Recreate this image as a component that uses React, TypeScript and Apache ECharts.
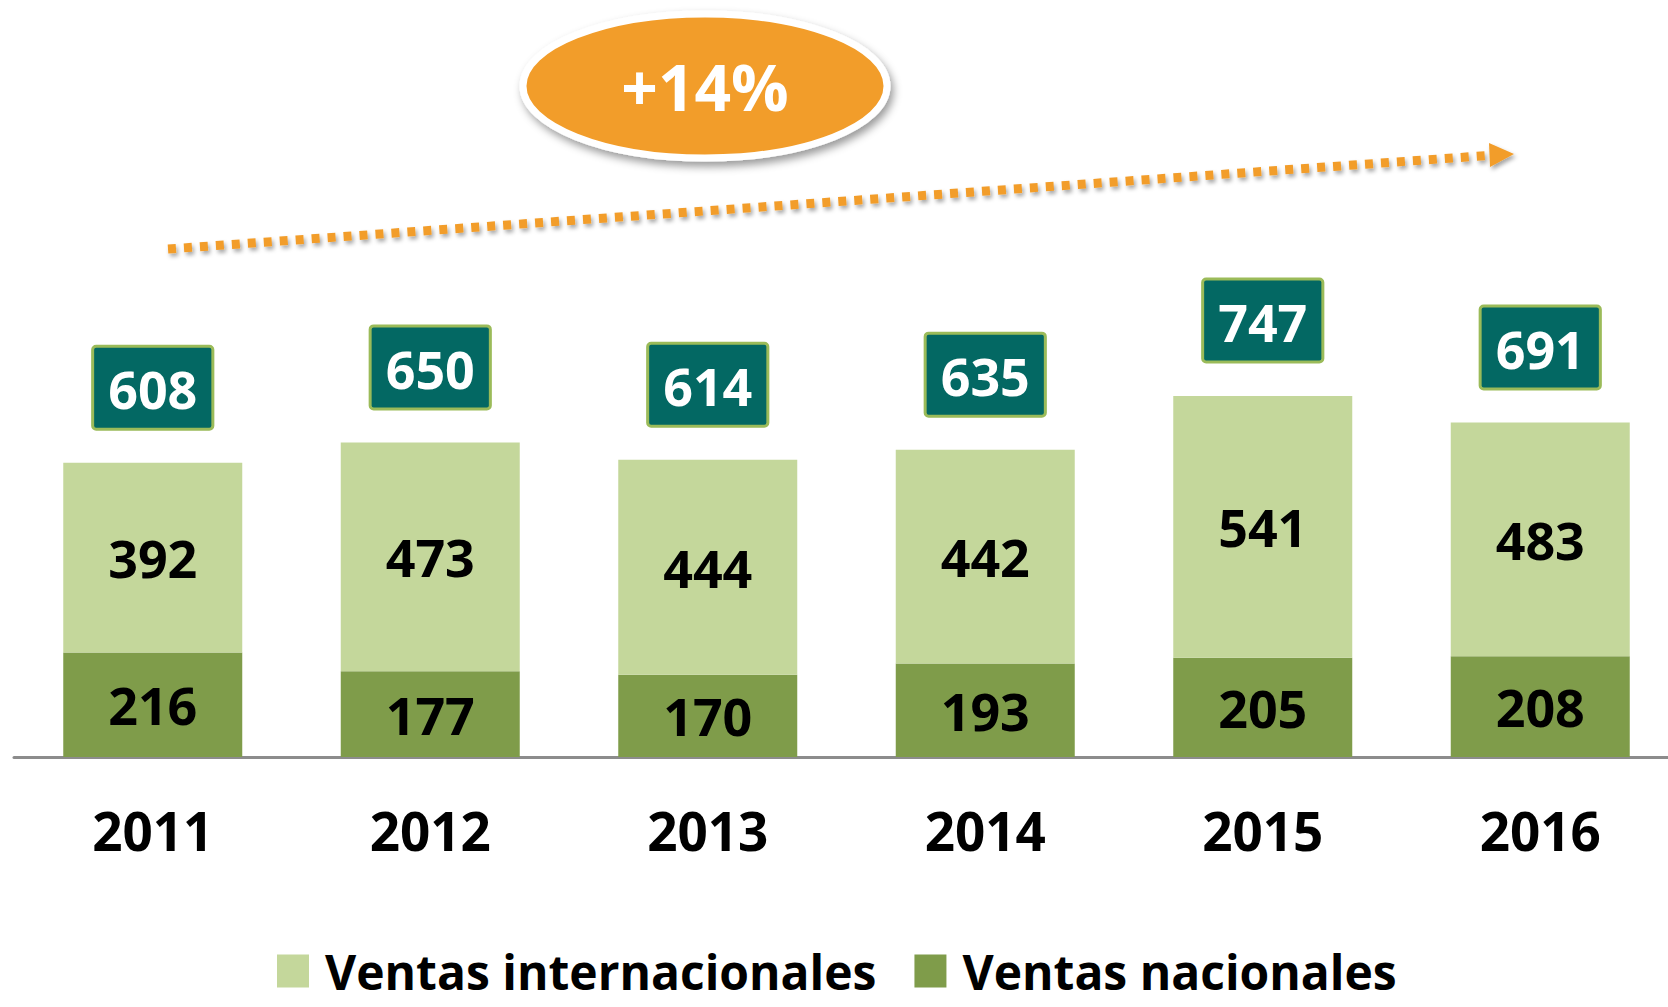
import React, { useEffect, useRef } from "react";
import * as echarts from "echarts";

const years = ["2011", "2012", "2013", "2014", "2015", "2016"];
const ventasNacionales = [216, 177, 170, 193, 205, 208];
const ventasInternacionales = [392, 473, 444, 442, 541, 483];
const totales = [608, 650, 614, 635, 747, 691];
const growthLabel = "+14%";

const FONT = "'Open Sans', 'Noto Sans', sans-serif";

export default function App() {
  const ref = useRef<HTMLDivElement>(null);

  useEffect(() => {
    if (!ref.current) return;
    const chart = echarts.init(ref.current, null, { renderer: "svg" });
    const option: any = {
      animation: false,
      backgroundColor: "#ffffff",
      textStyle: { fontFamily: FONT },
      grid: {
        left: 14,
        width: 1665,
        top: 273,
        bottom: 250,
        containLabel: false,
        outerBoundsMode: "none",
      },
      legend: {
        data: ["Ventas internacionales", "Ventas nacionales"],
        left: 277,
        top: 947,
        padding: 0,
        itemWidth: 32,
        itemHeight: 33,
        itemGap: 38,
        icon: "rect",
        selectedMode: false,
        textStyle: {
          fontFamily: FONT,
          fontSize: 48,
          fontWeight: "bold",
          color: "#000000",
          lineHeight: 48,
          padding: [0, 0, 0, 11],
        },
      },
      xAxis: {
        type: "category",
        data: years,
        axisLine: { show: true, lineStyle: { color: "#8c8c8c", width: 3 } },
        axisTick: { show: false },
        axisLabel: {
          fontFamily: FONT,
          fontSize: 53,
          fontWeight: "bold",
          color: "#000000",
          margin: 47,
          lineHeight: 53,
        },
      },
      yAxis: {
        type: "value",
        min: 0,
        max: 1000,
        show: false,
        splitLine: { show: false },
      },
      series: [
        {
          name: "Ventas nacionales",
          type: "bar",
          stack: "ventas",
          data: ventasNacionales,
          barWidth: 179,
          itemStyle: { color: "#7f9c4a" },
          label: {
            show: true,
            position: "inside",
            fontFamily: FONT,
            fontSize: 52,
            fontWeight: "bold",
            color: "#000000",
          },
          z: 2,
        },
        {
          name: "Ventas internacionales",
          type: "bar",
          stack: "ventas",
          data: ventasInternacionales,
          barWidth: 179,
          itemStyle: { color: "#c4d79b" },
          label: {
            show: true,
            position: "inside",
            fontFamily: FONT,
            fontSize: 52,
            fontWeight: "bold",
            color: "#000000",
          },
          z: 2,
        },
        {
          name: "Total",
          type: "bar",
          data: totales,
          barWidth: 179,
          barGap: "-100%",
          silent: true,
          itemStyle: { color: "rgba(0,0,0,0)" },
          label: {
            show: true,
            position: "top",
            distance: 35,
            fontFamily: FONT,
            fontSize: 52,
            fontWeight: "bold",
            color: "#ffffff",
            lineHeight: 52,
            backgroundColor: "#036863",
            borderColor: "#9bbb59",
            borderWidth: 3,
            borderRadius: 2,
            padding: [15, 14, 13, 14],
          },
          z: 1,
        },
      ],
      graphic: [
        {
          type: "line",
          shape: { x1: 168, y1: 249, x2: 1495, y2: 155 },
          style: {
            stroke: "#f29d2a",
            lineWidth: 9,
            lineDash: [8, 8],
            shadowBlur: 4,
            shadowColor: "rgba(0,0,0,0.35)",
            shadowOffsetX: 2,
            shadowOffsetY: 3,
          },
          z: 10,
        },
        {
          type: "polygon",
          shape: {
            points: [
              [1489, 143],
              [1514, 154],
              [1490, 167],
            ],
          },
          style: {
            fill: "#f29d2a",
            shadowBlur: 4,
            shadowColor: "rgba(0,0,0,0.35)",
            shadowOffsetX: 2,
            shadowOffsetY: 3,
          },
          z: 10,
        },
        {
          type: "ellipse",
          shape: { cx: 705, cy: 86, rx: 182, ry: 72 },
          style: {
            fill: "#f29d2a",
            stroke: "#ffffff",
            lineWidth: 7,
            shadowBlur: 8,
            shadowColor: "rgba(0,0,0,0.4)",
            shadowOffsetX: 3,
            shadowOffsetY: 5,
          },
          z: 10,
        },
        {
          type: "text",
          x: 705,
          y: 86,
          style: {
            text: growthLabel,
            fill: "#ffffff",
            fontFamily: FONT,
            fontSize: 64,
            fontWeight: "bold",
            align: "center",
            verticalAlign: "middle",
          },
          z: 11,
        },
      ],
    };
    chart.setOption(option);
    return () => chart.dispose();
  }, []);

  return (
    <div
      ref={ref}
      style={{ position: "fixed", left: 0, top: 0, width: 1668, height: 1007 }}
    />
  );
}
